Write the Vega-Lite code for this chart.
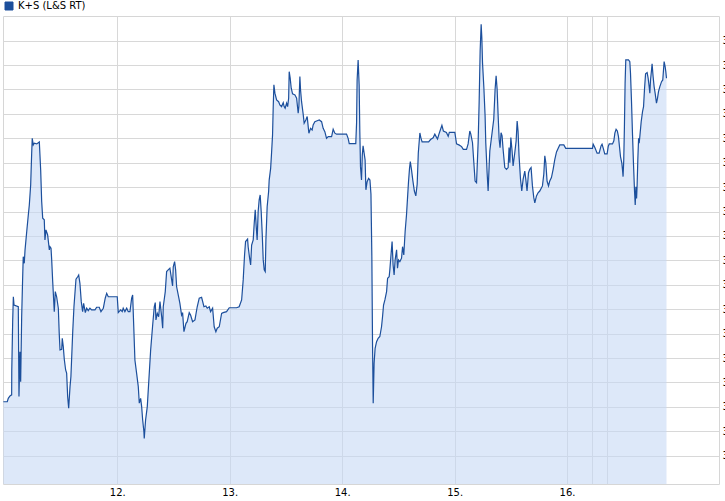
{
"$schema": "https://vega.github.io/schema/vega-lite/v6.json",
"width": 716, "height": 468,
"autosize": {"type": "none"},
"padding": {"left": 3, "top": 16, "right": 6, "bottom": 17},
"background": "white",
"data": {"values": [
{"day":10.987,"price":31.221},{"day":11.022,"price":31.221},{"day":11.031,"price":31.235},{"day":11.046,"price":31.245},{"day":11.061,"price":31.249},{"day":11.062,"price":31.348},{"day":11.070,"price":31.549},{"day":11.076,"price":31.651},{"day":11.082,"price":31.617},{"day":11.120,"price":31.610},
{"day":11.126,"price":31.242},{"day":11.135,"price":31.426},{"day":11.141,"price":31.303},{"day":11.150,"price":31.569},{"day":11.159,"price":31.733},{"day":11.164,"price":31.815},{"day":11.173,"price":31.788},{"day":11.180,"price":31.843},{"day":11.195,"price":31.918},{"day":11.209,"price":31.986},
{"day":11.218,"price":32.027},{"day":11.230,"price":32.109},{"day":11.239,"price":32.239},{"day":11.244,"price":32.300},{"day":11.253,"price":32.273},{"day":11.262,"price":32.280},{"day":11.284,"price":32.277},{"day":11.307,"price":32.285},{"day":11.319,"price":32.170},{"day":11.328,"price":32.041},
{"day":11.337,"price":31.973},{"day":11.351,"price":31.966},{"day":11.357,"price":31.884},{"day":11.366,"price":31.925},{"day":11.381,"price":31.904},{"day":11.396,"price":31.843},{"day":11.402,"price":31.856},{"day":11.411,"price":31.850},{"day":11.417,"price":31.802},{"day":11.426,"price":31.713},
{"day":11.440,"price":31.590},{"day":11.449,"price":31.672},{"day":11.461,"price":31.651},{"day":11.476,"price":31.604},{"day":11.484,"price":31.501},{"day":11.491,"price":31.433},{"day":11.506,"price":31.436},{"day":11.511,"price":31.481},{"day":11.520,"price":31.447},{"day":11.529,"price":31.395},
{"day":11.541,"price":31.351},{"day":11.550,"price":31.338},{"day":11.559,"price":31.242},{"day":11.568,"price":31.194},{"day":11.580,"price":31.283},{"day":11.588,"price":31.324},{"day":11.604,"price":31.508},{"day":11.615,"price":31.610},{"day":11.627,"price":31.686},{"day":11.633,"price":31.723},
{"day":11.648,"price":31.733},{"day":11.657,"price":31.740},{"day":11.668,"price":31.706},{"day":11.680,"price":31.631},{"day":11.692,"price":31.590},{"day":11.701,"price":31.624},{"day":11.716,"price":31.586},{"day":11.728,"price":31.604},{"day":11.742,"price":31.594},{"day":11.757,"price":31.604},
{"day":11.772,"price":31.597},{"day":11.802,"price":31.597},{"day":11.817,"price":31.608},{"day":11.840,"price":31.608},{"day":11.855,"price":31.590},{"day":11.876,"price":31.604},{"day":11.893,"price":31.645},{"day":11.906,"price":31.665},{"day":11.920,"price":31.651},{"day":12.000,"price":31.651},
{"day":12.009,"price":31.586},{"day":12.030,"price":31.597},{"day":12.044,"price":31.590},{"day":12.053,"price":31.604},{"day":12.068,"price":31.590},{"day":12.084,"price":31.604},{"day":12.098,"price":31.590},{"day":12.113,"price":31.590},{"day":12.128,"price":31.645},{"day":12.137,"price":31.658},
{"day":12.142,"price":31.590},{"day":12.157,"price":31.392},{"day":12.172,"price":31.338},{"day":12.187,"price":31.283},{"day":12.196,"price":31.215},{"day":12.208,"price":31.235},{"day":12.217,"price":31.201},{"day":12.226,"price":31.146},{"day":12.237,"price":31.098},{"day":12.240,"price":31.071},
{"day":12.252,"price":31.146},{"day":12.267,"price":31.201},{"day":12.282,"price":31.317},{"day":12.297,"price":31.433},{"day":12.315,"price":31.535},{"day":12.329,"price":31.610},{"day":12.338,"price":31.627},{"day":12.344,"price":31.556},{"day":12.356,"price":31.583},{"day":12.368,"price":31.569},
{"day":12.380,"price":31.631},{"day":12.395,"price":31.569},{"day":12.404,"price":31.522},{"day":12.409,"price":31.610},{"day":12.427,"price":31.672},{"day":12.439,"price":31.754},{"day":12.453,"price":31.761},{"day":12.468,"price":31.768},{"day":12.484,"price":31.720},{"day":12.492,"price":31.695},
{"day":12.498,"price":31.774},{"day":12.510,"price":31.795},{"day":12.519,"price":31.761},{"day":12.528,"price":31.692},{"day":12.548,"price":31.645},{"day":12.557,"price":31.624},{"day":12.572,"price":31.576},{"day":12.581,"price":31.586},{"day":12.593,"price":31.508},{"day":12.611,"price":31.542},
{"day":12.622,"price":31.549},{"day":12.640,"price":31.586},{"day":12.652,"price":31.576},{"day":12.670,"price":31.549},{"day":12.691,"price":31.556},{"day":12.711,"price":31.610},{"day":12.729,"price":31.645},{"day":12.750,"price":31.649},{"day":12.771,"price":31.610},{"day":12.788,"price":31.613},
{"day":12.800,"price":31.604},{"day":12.818,"price":31.610},{"day":12.830,"price":31.590},{"day":12.848,"price":31.604},{"day":12.862,"price":31.528},{"day":12.877,"price":31.508},{"day":12.889,"price":31.522},{"day":12.907,"price":31.528},{"day":12.928,"price":31.583},{"day":12.942,"price":31.586},
{"day":12.972,"price":31.590},{"day":12.996,"price":31.606},{"day":13.061,"price":31.606},{"day":13.084,"price":31.610},{"day":13.106,"price":31.638},{"day":13.120,"price":31.720},{"day":13.132,"price":31.822},{"day":13.141,"price":31.877},{"day":13.159,"price":31.887},{"day":13.164,"price":31.856},
{"day":13.177,"price":31.809},{"day":13.186,"price":31.781},{"day":13.195,"price":31.863},{"day":13.209,"price":31.884},{"day":13.218,"price":31.952},{"day":13.227,"price":32.007},{"day":13.236,"price":31.938},{"day":13.244,"price":31.884},{"day":13.253,"price":32.000},{"day":13.262,"price":32.048},
{"day":13.271,"price":32.068},{"day":13.280,"price":32.000},{"day":13.289,"price":31.911},{"day":13.298,"price":31.802},{"day":13.307,"price":31.761},{"day":13.316,"price":31.754},{"day":13.322,"price":31.884},{"day":13.333,"price":32.020},{"day":13.346,"price":32.082},{"day":13.351,"price":32.129},
{"day":13.364,"price":32.177},{"day":13.372,"price":32.239},{"day":13.381,"price":32.314},{"day":13.387,"price":32.430},{"day":13.393,"price":32.519},{"day":13.402,"price":32.485},{"day":13.417,"price":32.457},{"day":13.435,"price":32.450},{"day":13.446,"price":32.437},{"day":13.461,"price":32.430},
{"day":13.476,"price":32.446},{"day":13.484,"price":32.430},{"day":13.493,"price":32.423},{"day":13.506,"price":32.444},{"day":13.515,"price":32.430},{"day":13.524,"price":32.464},{"day":13.529,"price":32.573},{"day":13.538,"price":32.546},{"day":13.547,"price":32.505},{"day":13.559,"price":32.482},
{"day":13.580,"price":32.478},{"day":13.595,"price":32.464},{"day":13.609,"price":32.403},{"day":13.615,"price":32.430},{"day":13.624,"price":32.553},{"day":13.630,"price":32.498},{"day":13.639,"price":32.450},{"day":13.653,"price":32.400},{"day":13.662,"price":32.362},{"day":13.677,"price":32.375},
{"day":13.689,"price":32.389},{"day":13.704,"price":32.321},{"day":13.719,"price":32.341},{"day":13.733,"price":32.334},{"day":13.742,"price":32.355},{"day":13.757,"price":32.368},{"day":13.778,"price":32.372},{"day":13.796,"price":32.375},{"day":13.817,"price":32.368},{"day":13.831,"price":32.341},
{"day":13.846,"price":32.327},{"day":13.861,"price":32.300},{"day":13.876,"price":32.307},{"day":13.906,"price":32.307},{"day":13.920,"price":32.337},{"day":13.935,"price":32.321},{"day":13.950,"price":32.317},{"day":14.039,"price":32.317},{"day":14.053,"price":32.300},{"day":14.063,"price":32.278},
{"day":14.121,"price":32.278},{"day":14.128,"price":32.362},{"day":14.133,"price":32.539},{"day":14.142,"price":32.621},{"day":14.151,"price":32.519},{"day":14.157,"price":32.327},{"day":14.163,"price":32.184},{"day":14.172,"price":32.129},{"day":14.179,"price":32.232},{"day":14.186,"price":32.269},
{"day":14.195,"price":32.240},{"day":14.204,"price":32.211},{"day":14.211,"price":32.089},{"day":14.222,"price":32.122},{"day":14.235,"price":32.136},{"day":14.247,"price":32.129},{"day":14.256,"price":32.072},{"day":14.264,"price":31.815},{"day":14.270,"price":31.460},{"day":14.276,"price":31.215},
{"day":14.284,"price":31.379},{"day":14.293,"price":31.440},{"day":14.306,"price":31.467},{"day":14.320,"price":31.481},{"day":14.335,"price":31.488},{"day":14.350,"price":31.528},{"day":14.359,"price":31.569},{"day":14.368,"price":31.617},{"day":14.380,"price":31.638},{"day":14.395,"price":31.672},
{"day":14.404,"price":31.727},{"day":14.418,"price":31.733},{"day":14.424,"price":31.761},{"day":14.433,"price":31.815},{"day":14.444,"price":31.877},{"day":14.453,"price":31.781},{"day":14.462,"price":31.740},{"day":14.471,"price":31.802},{"day":14.484,"price":31.843},{"day":14.492,"price":31.768},
{"day":14.501,"price":31.802},{"day":14.513,"price":31.795},{"day":14.528,"price":31.809},{"day":14.537,"price":31.856},{"day":14.548,"price":31.822},{"day":14.560,"price":31.918},{"day":14.572,"price":31.986},{"day":14.581,"price":32.054},{"day":14.590,"price":32.122},{"day":14.599,"price":32.177},
{"day":14.606,"price":32.205},{"day":14.617,"price":32.170},{"day":14.628,"price":32.129},{"day":14.642,"price":32.084},{"day":14.655,"price":32.064},{"day":14.667,"price":32.112},{"day":14.677,"price":32.240},{"day":14.691,"price":32.322},{"day":14.700,"price":32.302},{"day":14.711,"price":32.285},
{"day":14.769,"price":32.285},{"day":14.786,"price":32.295},{"day":14.809,"price":32.302},{"day":14.824,"price":32.317},{"day":14.839,"price":32.304},{"day":14.848,"price":32.297},{"day":14.860,"price":32.316},{"day":14.873,"price":32.334},{"day":14.887,"price":32.353},{"day":14.900,"price":32.330},
{"day":14.927,"price":32.324},{"day":14.943,"price":32.308},{"day":14.953,"price":32.324},{"day":15.002,"price":32.324},{"day":15.017,"price":32.277},{"day":15.042,"price":32.272},{"day":15.062,"price":32.266},{"day":15.077,"price":32.255},{"day":15.106,"price":32.255},{"day":15.120,"price":32.277},
{"day":15.135,"price":32.330},{"day":15.144,"price":32.317},{"day":15.159,"price":32.282},{"day":15.171,"price":32.200},{"day":15.182,"price":32.125},{"day":15.195,"price":32.118},{"day":15.209,"price":32.282},{"day":15.218,"price":32.446},{"day":15.227,"price":32.658},{"day":15.236,"price":32.767},
{"day":15.242,"price":32.712},{"day":15.248,"price":32.610},{"day":15.260,"price":32.508},{"day":15.271,"price":32.392},{"day":15.277,"price":32.282},{"day":15.289,"price":32.159},{"day":15.298,"price":32.084},{"day":15.307,"price":32.187},{"day":15.313,"price":32.248},{"day":15.324,"price":32.289},
{"day":15.337,"price":32.337},{"day":15.348,"price":32.378},{"day":15.360,"price":32.501},{"day":15.369,"price":32.556},{"day":15.378,"price":32.501},{"day":15.387,"price":32.392},{"day":15.396,"price":32.296},{"day":15.404,"price":32.262},{"day":15.413,"price":32.323},{"day":15.422,"price":32.310},
{"day":15.431,"price":32.255},{"day":15.446,"price":32.180},{"day":15.461,"price":32.173},{"day":15.476,"price":32.180},{"day":15.484,"price":32.262},{"day":15.491,"price":32.200},{"day":15.500,"price":32.303},{"day":15.511,"price":32.248},{"day":15.520,"price":32.187},{"day":15.535,"price":32.241},
{"day":15.547,"price":32.289},{"day":15.556,"price":32.371},{"day":15.564,"price":32.330},{"day":15.573,"price":32.228},{"day":15.586,"price":32.132},{"day":15.597,"price":32.084},{"day":15.609,"price":32.132},{"day":15.624,"price":32.166},{"day":15.633,"price":32.132},{"day":15.644,"price":32.084},
{"day":15.657,"price":32.159},{"day":15.668,"price":32.173},{"day":15.680,"price":32.180},{"day":15.692,"price":32.105},{"day":15.704,"price":32.057},{"day":15.713,"price":32.036},{"day":15.728,"price":32.064},{"day":15.742,"price":32.077},{"day":15.757,"price":32.084},{"day":15.781,"price":32.105},
{"day":15.793,"price":32.153},{"day":15.802,"price":32.228},{"day":15.811,"price":32.200},{"day":15.822,"price":32.125},{"day":15.835,"price":32.105},{"day":15.846,"price":32.125},{"day":15.861,"price":32.139},{"day":15.876,"price":32.173},{"day":15.891,"price":32.214},{"day":15.906,"price":32.244},
{"day":15.920,"price":32.258},{"day":15.935,"price":32.273},{"day":15.971,"price":32.273},{"day":15.988,"price":32.259},{"day":16.226,"price":32.259},{"day":16.232,"price":32.276},{"day":16.247,"price":32.262},{"day":16.267,"price":32.239},{"day":16.285,"price":32.239},{"day":16.302,"price":32.269},
{"day":16.311,"price":32.276},{"day":16.322,"price":32.259},{"day":16.335,"price":32.236},{"day":16.356,"price":32.236},{"day":16.366,"price":32.267},{"day":16.375,"price":32.277},{"day":16.404,"price":32.277},{"day":16.416,"price":32.290},{"day":16.425,"price":32.321},{"day":16.436,"price":32.337},
{"day":16.447,"price":32.330},{"day":16.457,"price":32.307},{"day":16.466,"price":32.266},{"day":16.475,"price":32.225},{"day":16.487,"price":32.198},{"day":16.493,"price":32.170},{"day":16.498,"price":32.143},{"day":16.504,"price":32.211},{"day":16.510,"price":32.348},{"day":16.516,"price":32.526},
{"day":16.522,"price":32.621},{"day":16.546,"price":32.621},{"day":16.558,"price":32.614},{"day":16.564,"price":32.567},{"day":16.573,"price":32.450},{"day":16.582,"price":32.314},{"day":16.591,"price":32.191},{"day":16.600,"price":32.082},{"day":16.606,"price":32.027},{"day":16.612,"price":32.102},
{"day":16.618,"price":32.054},{"day":16.623,"price":32.109},{"day":16.629,"price":32.211},{"day":16.636,"price":32.300},{"day":16.641,"price":32.280},{"day":16.647,"price":32.307},{"day":16.659,"price":32.368},{"day":16.671,"price":32.409},{"day":16.680,"price":32.430},{"day":16.689,"price":32.505},
{"day":16.698,"price":32.564},{"day":16.712,"price":32.569},{"day":16.721,"price":32.546},{"day":16.730,"price":32.512},{"day":16.736,"price":32.485},{"day":16.742,"price":32.539},{"day":16.751,"price":32.580},{"day":16.756,"price":32.605},{"day":16.765,"price":32.553},{"day":16.774,"price":32.512},
{"day":16.783,"price":32.485},{"day":16.795,"price":32.444},{"day":16.804,"price":32.464},{"day":16.813,"price":32.491},{"day":16.825,"price":32.512},{"day":16.840,"price":32.532},{"day":16.851,"price":32.539},{"day":16.863,"price":32.614},{"day":16.872,"price":32.594},{"day":16.878,"price":32.573},
{"day":16.884,"price":32.546}
]},
"encoding": {
  "x": {"field": "day", "type": "quantitative",
    "scale": {"domain": [10.984, 17.351], "nice": false, "zero": false},
    "axis": {"values": [12, 13, 14, 15, 16, 16.224, 16.357], "labelExpr": "datum.value == floor(datum.value) ? datum.value + '.' : ''", "title": null, "grid": true, "ticks": false, "domain": false, "labelPadding": 3, "labelOverlap": false, "labelFlush": false}},
  "y": {"field": "price", "type": "quantitative",
    "scale": {"domain": [30.884, 32.801], "nice": false, "zero": false},
    "axis": {"orient": "right", "values": [31.0, 31.1, 31.2, 31.3, 31.4, 31.5, 31.6, 31.7, 31.8, 31.9, 32.0, 32.1, 32.2, 32.3, 32.4, 32.5, 32.6, 32.7], "format": ".2f", "title": null, "grid": true, "ticks": false, "domain": false, "labelPadding": 3, "labelOverlap": false, "labelFlush": false}}
},
"layer": [
  {"mark": {"type": "area", "color": "#c6d9f5", "opacity": 0.6, "clip": true}},
  {"mark": {"type": "line", "strokeWidth": 1.2, "clip": true},
   "encoding": {"color": {"datum": "K+S (L&S RT)", "scale": {"range": ["#1c4f9c"]},
     "legend": {"orient": "none", "legendX": 1, "legendY": -15, "title": null, "symbolType": "square", "symbolSize": 64, "symbolStrokeWidth": 1, "labelOffset": 4, "padding": 0,
       "encode": {"symbols": {"update": {"fill": {"value": "#1c4f9c"}, "stroke": {"value": "#0b2a5c"}, "shape": {"value": "square"}, "opacity": {"value": 1}}}}}}}}
],
"config": {
  "view": {"stroke": "#d6d6d6", "strokeWidth": 1},
  "font": "DejaVu Sans",
  "axis": {"gridColor": "#d8d8d8", "gridWidth": 1, "gridOpacity": 1, "labelFont": "DejaVu Sans", "labelFontSize": 10, "labelColor": "#000000"},
  "legend": {"labelFont": "DejaVu Sans", "labelFontSize": 10, "labelColor": "#000000"}
}
}
